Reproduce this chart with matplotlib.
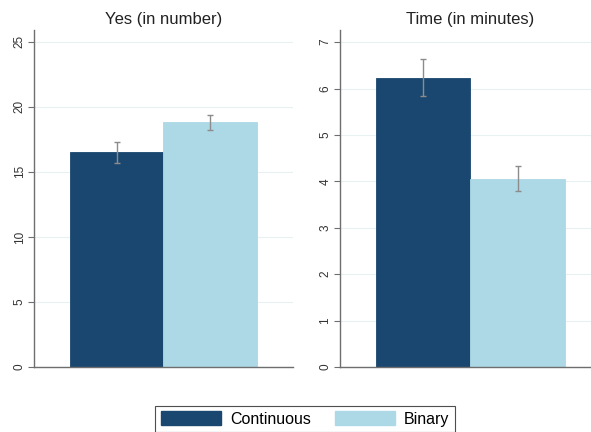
#!/usr/bin/env python3
# -*- coding: utf-8 -*-

import matplotlib
matplotlib.use("Agg")
import matplotlib.pyplot as plt
from matplotlib.patches import Patch

plt.rcParams['font.family'] = ['Liberation Sans', 'DejaVu Sans']

groups = ["Continuous", "Binary"]
colors = ["#1a476f", "#add8e6"]

yes_means = [16.5, 18.8]
yes_err = [0.8, 0.55]
time_means = [6.23, 4.06]
time_err = [0.4, 0.26]

panels = [
    ("Yes (in number)", yes_means, yes_err, [0, 5, 10, 15, 20, 25], 25.9),
    ("Time (in minutes)", time_means, time_err, [0, 1, 2, 3, 4, 5, 6, 7], 7.26),
]

fig = plt.figure(figsize=(5.91, 4.32), dpi=100)
positions = [[0.0575, 0.1505, 0.438, 0.780], [0.575, 0.1505, 0.4416, 0.780]]

for (title, means, errs, ticks, ytop), pos in zip(panels, positions):
    ax = fig.add_axes(pos)
    xs = list(range(len(means)))
    ax.bar(xs, means, width=1.0, color=colors, edgecolor=colors, linewidth=0.6, zorder=2)
    ax.errorbar(xs, means, yerr=errs, fmt='none', ecolor='#8c8c8c',
                elinewidth=1.0, capsize=2.2, capthick=1.0, zorder=3)
    ax.set_xlim(-0.88, 1.88)
    ax.set_ylim(0, ytop)
    ax.set_yticks(ticks)
    ax.set_yticklabels([str(t) for t in ticks], rotation=90, va='center',
                       fontsize=8.5, color='#333333')
    ax.set_xticks([])
    ax.grid(axis='y', color='#e8f0f2', linewidth=0.8, zorder=0)
    ax.set_axisbelow(True)
    for s in ['top', 'right']:
        ax.spines[s].set_visible(False)
    for s in ['left', 'bottom']:
        ax.spines[s].set_color('#6e6e6e')
        ax.spines[s].set_linewidth(1.0)
    ax.tick_params(axis='y', length=4.5, width=0.8, color='#6e6e6e', pad=1.5)
    ax.set_title(title, fontsize=12, color='#222222', pad=4)

handles = [Patch(facecolor=c, edgecolor=c) for c in colors]
leg = fig.legend(handles, groups, loc='center', bbox_to_anchor=(305 / 591, 1 - 419 / 432),
                 ncol=2, fontsize=11.5, frameon=True, fancybox=False,
                 handlelength=3.75, handleheight=1.0, handletextpad=0.56,
                 columnspacing=1.5, borderpad=0.35, borderaxespad=0)
leg.get_frame().set_edgecolor('#222222')
leg.get_frame().set_linewidth(0.8)

plt.savefig("out.png", dpi=100)
